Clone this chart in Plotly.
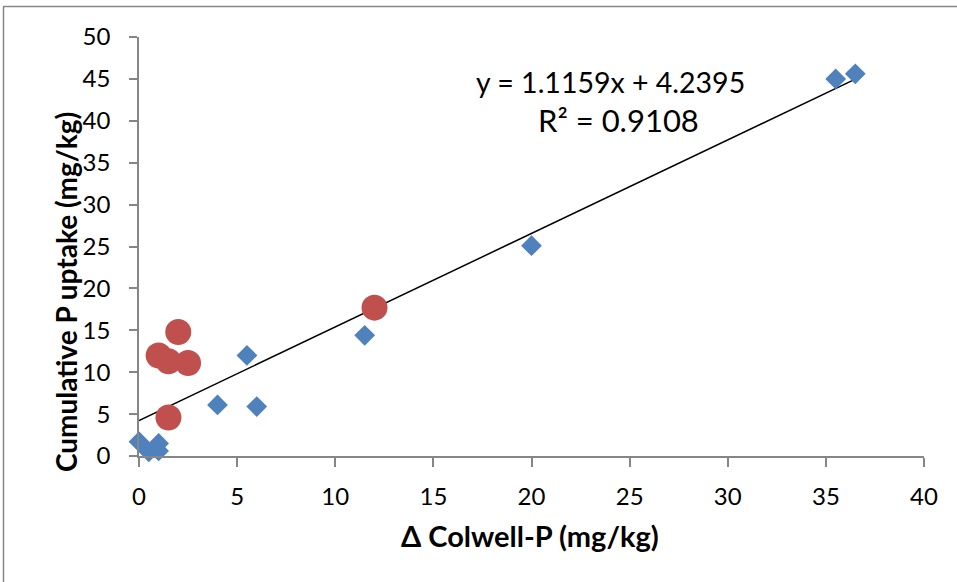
import plotly.graph_objects as go

# Blue diamonds
blue_x = [0.0, 0.5, 1.0, 1.0, 4.0, 6.0, 5.5, 11.5, 20.0, 35.5, 36.5]
blue_y = [1.7, 0.5, 1.5, 0.6, 6.1, 5.9, 12.0, 14.4, 25.1, 45.0, 45.6]

# Red circles
red_x = [2.0, 1.0, 1.5, 2.5, 1.5, 12.0]
red_y = [14.8, 12.0, 11.3, 11.1, 4.6, 17.7]

# Trendline (from the equation shown in the chart)
slope = 1.1159
intercept = 4.2395
trend_x = [0.0, 36.5]
trend_y = [slope * v + intercept for v in trend_x]

x_ticks = [0, 5, 10, 15, 20, 25, 30, 35, 40]
y_ticks = [0, 5, 10, 15, 20, 25, 30, 35, 40, 45, 50]

W, H = 957, 582
L, R, T, B = 139, 33, 37, 126
pw, ph = W - L - R, H - T - B


def px(xp):
    return (xp - L) / pw


def py(yp):
    return (H - B - yp) / ph


FONT = "Lato"
AXC = "#868686"

fig = go.Figure()
fig.add_trace(go.Scatter(x=trend_x, y=trend_y, mode="lines",
                         line=dict(color="black", width=1.5), hoverinfo="skip"))
fig.add_trace(go.Scatter(x=blue_x, y=blue_y, mode="markers", cliponaxis=False,
                         marker=dict(symbol="diamond", size=16, color="#4F81BD",
                                     line=dict(width=0))))
fig.add_trace(go.Scatter(x=red_x, y=red_y, mode="markers", cliponaxis=False,
                         marker=dict(symbol="circle", size=26, color="#C0504D",
                                     line=dict(width=0))))

fig.update_layout(
    width=W, height=H,
    margin=dict(l=L, r=R, t=T, b=B),
    paper_bgcolor="white", plot_bgcolor="white",
    showlegend=False,
    font=dict(family=FONT, color="black", size=24),
    xaxis=dict(range=[0, 40], tickvals=x_ticks, showgrid=False, zeroline=False,
               showline=True, linecolor=AXC, linewidth=1.5,
               ticks="outside", ticklen=9, tickcolor=AXC, tickwidth=1.5,
               tickfont=dict(size=24), ticklabelstandoff=9),
    yaxis=dict(range=[0, 50], tickvals=y_ticks, showgrid=False, zeroline=False,
               showline=True, linecolor=AXC, linewidth=1.5,
               ticks="outside", ticklen=8, tickcolor=AXC, tickwidth=1.5,
               tickfont=dict(size=24), ticklabelstandoff=14),
    annotations=[
        dict(xref="paper", yref="paper", x=px(610), y=py(82), text="y = 1.1159x + 4.2395",
             showarrow=False, font=dict(size=28.5), xanchor="center", yanchor="middle"),
        dict(xref="paper", yref="paper", x=px(618), y=py(120), text="R² = 0.9108",
             showarrow=False, font=dict(size=31), xanchor="center", yanchor="middle"),
        dict(xref="paper", yref="paper", x=px(530), y=py(535), text="<b>Δ Colwell-P (mg/kg)</b>",
             showarrow=False, font=dict(size=29), xanchor="center", yanchor="middle"),
        dict(xref="paper", yref="paper", x=px(66), y=py(292), text="<b>Cumulative P uptake (mg/kg)</b>",
             showarrow=False, font=dict(size=28), textangle=-90, xanchor="center", yanchor="middle"),
    ],
    shapes=[
        dict(type="line", xref="paper", yref="paper", x0=px(3), x1=px(957), y0=py(6.5), y1=py(6.5),
             line=dict(color=AXC, width=1.5)),
        dict(type="line", xref="paper", yref="paper", x0=px(3.5), x1=px(3.5), y0=py(6.5), y1=py(582),
             line=dict(color=AXC, width=1.5)),
    ],
)

fig.write_html("out.html", config={"displayModeBar": False},
               post_script="document.body.style.margin='0';document.body.style.overflow='hidden';")
